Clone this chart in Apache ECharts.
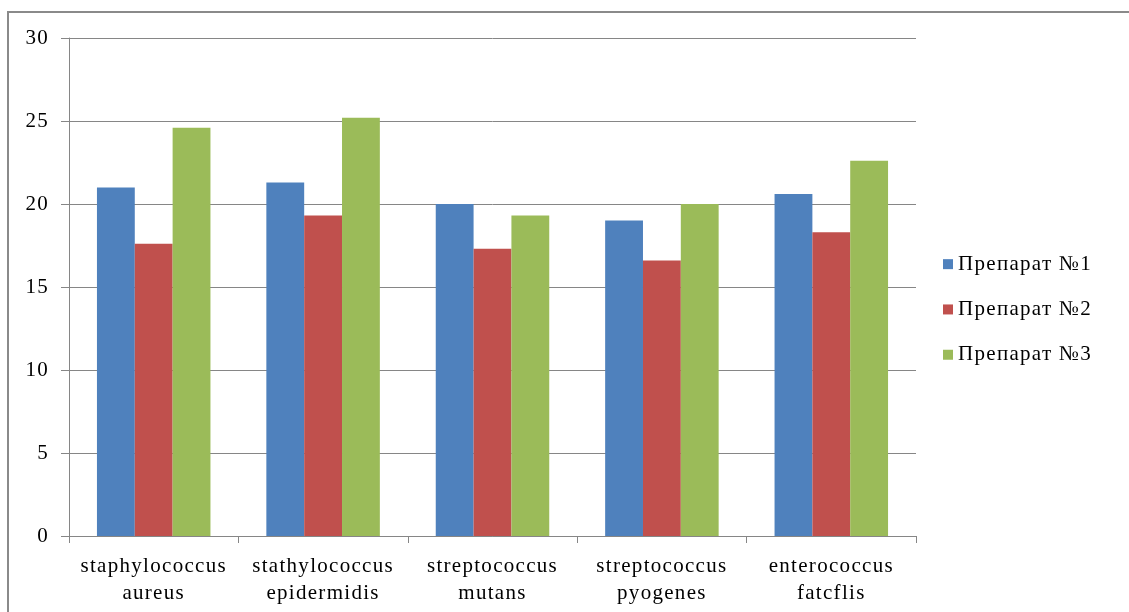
<!DOCTYPE html>
<html><head><meta charset="utf-8">
<script src="https://cdn.jsdelivr.net/npm/echarts@6/dist/echarts.min.js"></script>
<style>html,body{margin:0;padding:0;background:#fff}#c{width:1129px;height:612px}</style>
</head><body><div id="c"></div>
<script>
(function(){
  const orig = HTMLCanvasElement.prototype.getContext;
  HTMLCanvasElement.prototype.getContext = function(type, opts){
    const ctx = orig.call(this, type, opts);
    if (ctx && type === '2d' && 'letterSpacing' in ctx) { ctx.letterSpacing = '1.3px'; }
    return ctx;
  };
})();
const categories = ['staphylococcus aureus','stathylococcus epidermidis','streptococcus mutans','streptococcus pyogenes','enterococcus fatcflis'];
const seriesNames = ['Препарат №1','Препарат №2','Препарат №3'];
const prep1 = [21.0, 21.3, 20.0, 19.0, 20.6];
const prep2 = [17.6, 19.3, 17.3, 16.6, 18.3];
const prep3 = [24.6, 25.2, 19.3, 20.0, 22.6];
const colors = ['#4F81BD','#C0504D','#9BBB59'];
const font = 'Liberation Serif, Times New Roman, serif';
const chart = echarts.init(document.getElementById('c'));
chart.setOption({
  animation:false,
  color: colors,
  graphic:[{type:'rect',shape:{x:8,y:12,width:1300,height:800},style:{fill:'none',stroke:'#8a8a8a',lineWidth:2},silent:true}],
  grid:{left:69,right:213,top:38,bottom:76,containLabel:false},
  legend:{orient:'vertical',left:943,top:253,padding:0,itemWidth:10,itemHeight:10,itemGap:23,icon:'rect',
    textStyle:{fontFamily:font,fontSize:21,color:'#000'},data:seriesNames},
  xAxis:{type:'category',data:categories,
    axisLine:{lineStyle:{color:'#868686',width:1}},
    axisTick:{show:true,length:7,lineStyle:{color:'#868686'}},
    axisLabel:{fontFamily:font,fontSize:21,color:'#000',margin:17,lineHeight:27,interval:0,
      formatter:v=>v.replace(' ','\n')}},
  yAxis:{type:'value',min:0,max:30,interval:5,
    axisLine:{show:true,lineStyle:{color:'#868686'}},
    axisTick:{show:true,length:8,lineStyle:{color:'#868686'}},
    splitLine:{lineStyle:{color:'#868686',width:1}},
    axisLabel:{fontFamily:font,fontSize:21,color:'#000',margin:20}},
  series:[
    {name:seriesNames[0],type:'bar',data:prep1,barGap:'0%',barCategoryGap:'33%'},
    {name:seriesNames[1],type:'bar',data:prep2,barGap:'0%',barCategoryGap:'33%'},
    {name:seriesNames[2],type:'bar',data:prep3,barGap:'0%',barCategoryGap:'33%'}
  ]
});
</script></body></html>
